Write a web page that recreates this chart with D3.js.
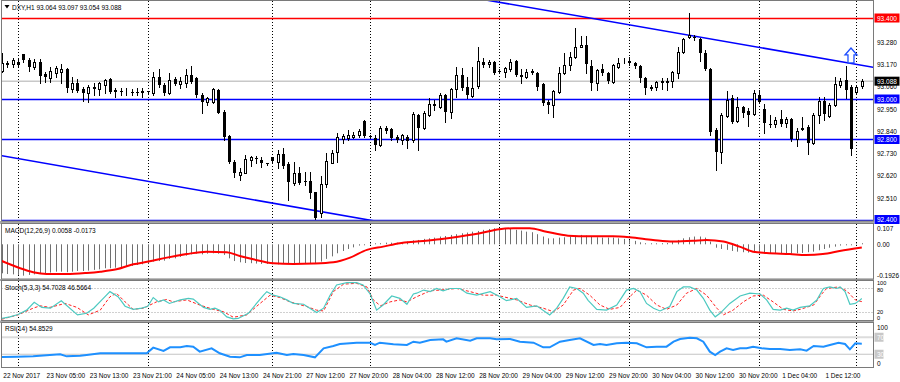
<!DOCTYPE html>
<html><head><meta charset="utf-8">
<script src="https://cdn.jsdelivr.net/npm/d3@7"></script>
<style>
html,body{margin:0;padding:0;background:#fff;}
svg{display:block;}
text{font-family:"Liberation Sans",Arial,sans-serif;font-size:6.5px;fill:#000;}
</style>
</head><body>
<svg id="c" width="900" height="382"></svg>
<script>
// ---------- DATA ----------
const symbolTitle = "DXY,H1  93.064 93.097 93.054 93.088";
const openP = [93.140,93.176,93.173,93.184,93.221,93.193,93.160,93.181,93.124,93.102,93.127,93.135,93.148,93.048,93.077,93.048,93.028,93.058,93.048,93.069,
93.097,93.045,93.038,93.035,93.037,93.035,93.040,93.038,93.028,93.107,93.069,93.028,93.097,93.072,93.077,93.119,93.102,93.020,92.987,92.987,
93.045,92.938,92.817,92.691,92.625,92.636,92.699,92.709,92.699,92.683,92.712,92.691,92.728,92.679,92.587,92.633,92.594,92.595,92.539,92.436,
92.579,92.686,92.740,92.801,92.806,92.814,92.822,92.893,92.816,92.806,92.773,92.855,92.850,92.814,92.798,92.814,92.798,92.921,92.858,92.921,
92.972,92.962,93.020,92.937,93.048,93.119,93.058,93.015,93.064,93.184,93.173,93.184,93.140,93.135,93.146,93.188,93.119,93.110,93.138,93.130,
93.074,92.987,92.970,93.036,93.127,93.168,93.206,93.258,93.267,93.163,93.081,93.146,93.130,93.086,93.156,93.192,93.188,93.179,93.163,93.102,
93.056,93.058,93.085,93.086,93.091,93.127,93.234,93.305,93.308,93.295,93.229,93.146,92.847,92.740,92.916,93.003,92.893,92.959,92.942,92.926,
93.020,92.949,92.878,92.877,92.900,92.880,92.900,92.801,92.854,92.860,92.784,92.921,92.992,92.916,92.970,93.069,93.094,93.061,93.036,93.064];
const highP = [93.226,93.189,93.201,93.196,93.222,93.201,93.196,93.196,93.135,93.160,93.163,93.173,93.152,93.110,93.097,93.061,93.069,93.081,93.086,93.097,
93.102,93.056,93.053,93.056,93.048,93.053,93.053,93.041,93.135,93.147,93.077,93.127,93.110,93.110,93.147,93.163,93.110,93.028,93.012,93.053,
93.048,92.946,92.822,92.699,92.658,92.724,92.719,92.719,92.715,92.686,92.715,92.748,92.756,92.691,92.691,92.663,92.641,92.641,92.542,92.620,
92.732,92.748,92.830,92.827,92.847,92.839,92.850,92.896,92.822,92.822,92.867,92.867,92.855,92.822,92.826,92.822,92.938,92.926,92.940,93.003,
92.995,93.028,93.023,93.053,93.156,93.151,93.110,93.160,93.255,93.201,93.193,93.189,93.146,93.160,93.196,93.193,93.146,93.146,93.146,93.135,
93.077,92.995,93.044,93.156,93.226,93.234,93.349,93.311,93.311,93.193,93.146,93.173,93.135,93.173,93.201,93.201,93.209,93.184,93.168,93.110,
93.069,93.091,93.102,93.102,93.140,93.258,93.300,93.423,93.316,93.300,93.242,93.151,92.855,92.929,93.041,93.020,93.008,92.965,92.954,93.044,
93.044,92.975,92.921,92.909,92.946,92.913,92.904,92.855,92.909,92.872,92.929,93.008,93.008,92.979,93.110,93.102,93.163,93.069,93.064,93.097];
const lowP = [93.135,93.160,93.160,93.160,93.184,93.140,93.147,93.081,93.086,93.086,93.110,93.081,93.036,93.036,93.036,92.990,92.987,93.020,93.020,93.031,
93.028,93.012,93.020,93.020,93.020,93.020,93.012,93.028,93.020,93.061,93.020,93.025,93.069,93.053,93.061,93.081,93.012,92.933,92.970,92.979,
92.929,92.798,92.686,92.617,92.600,92.633,92.669,92.686,92.666,92.674,92.691,92.658,92.658,92.501,92.575,92.580,92.575,92.510,92.406,92.419,
92.567,92.682,92.691,92.781,92.798,92.806,92.814,92.811,92.806,92.748,92.768,92.834,92.798,92.789,92.778,92.756,92.789,92.748,92.850,92.916,
92.946,92.954,92.888,92.904,93.012,93.044,93.003,93.012,93.053,93.160,93.160,93.123,93.127,93.110,93.140,93.115,93.077,93.102,93.123,93.044,
92.970,92.929,92.913,93.028,93.123,93.143,93.201,93.255,93.127,93.044,93.044,93.119,93.077,93.081,93.151,93.176,93.168,93.151,93.086,93.023,
93.044,93.044,93.048,93.044,93.061,93.102,93.226,93.300,93.292,93.189,93.143,92.822,92.649,92.682,92.913,92.880,92.888,92.913,92.867,92.921,
92.979,92.834,92.863,92.863,92.867,92.863,92.794,92.768,92.847,92.728,92.778,92.880,92.896,92.913,92.965,93.061,93.003,92.723,93.031,93.054];
const closeP = [93.180,93.166,93.193,93.166,93.193,93.160,93.181,93.115,93.110,93.138,93.152,93.148,93.053,93.077,93.041,93.028,93.061,93.048,93.077,93.094,
93.036,93.035,93.034,93.037,93.035,93.031,93.031,93.034,93.110,93.069,93.028,93.094,93.074,93.091,93.119,93.086,93.020,92.987,93.003,93.048,
92.933,92.814,92.691,92.633,92.641,92.704,92.712,92.705,92.682,92.681,92.696,92.727,92.669,92.592,92.633,92.587,92.590,92.534,92.411,92.579,
92.694,92.735,92.811,92.817,92.822,92.822,92.844,92.817,92.812,92.773,92.855,92.844,92.806,92.798,92.822,92.794,92.926,92.855,92.930,92.974,
92.975,93.020,92.937,93.048,93.119,93.053,93.020,93.053,93.189,93.168,93.184,93.130,93.137,93.151,93.184,93.119,93.110,93.135,93.130,93.061,
92.979,92.970,93.040,93.130,93.168,93.206,93.255,93.267,93.173,93.077,93.143,93.127,93.091,93.168,93.179,93.194,93.179,93.163,93.102,93.053,
93.058,93.086,93.087,93.088,93.135,93.234,93.295,93.316,93.306,93.229,93.146,92.839,92.740,92.921,92.995,92.888,92.962,92.932,92.921,93.028,
92.987,92.880,92.876,92.896,92.877,92.900,92.801,92.844,92.856,92.784,92.921,92.992,92.926,92.970,93.074,93.091,93.044,92.751,93.058,93.088];

const priceTicks = [93.280, 93.170, 93.060, 92.950, 92.840, 92.730, 92.620, 92.510];
const levelPrices = [93.400, 93.000, 92.800, 92.400];
const levelColors = ["#ff0000", "#0000ff", "#0000ff", "#0000ff"];
const bidPrice = 93.088;

// trend lines (bar index, price)
const upperTrendIdx = [85, 161.5];
const upperTrendPrice = [93.510, 93.155];
const lowerTrendIdx = [-1, 69.5];
const lowerTrendPrice = [92.7245, 92.395];
const arrowIdx = 157, arrowPrice = 93.178;

const timeIdx = [0,8,16,24,32,40,48,56,64,72,80,88,96,104,112,120,128,136,144,152];
const timeLabels = ["22 Nov 2017","23 Nov 05:00","23 Nov 13:00","23 Nov 21:00","24 Nov 05:00","24 Nov 13:00","24 Nov 21:00",
"27 Nov 12:00","27 Nov 20:00","28 Nov 04:00","28 Nov 12:00","28 Nov 20:00","29 Nov 04:00","29 Nov 12:00","29 Nov 20:00",
"30 Nov 04:00","30 Nov 12:00","30 Nov 20:00","1 Dec 04:00","1 Dec 12:00"];
const separatorIdx = [3, 27, 50, 68, 92, 116, 140, 158];

// MACD
const macdTitle = "MACD(12,26,9) 0.0058 -0.0173";
const macdHist = [-0.161,-0.165,-0.167,-0.170,-0.174,-0.170,-0.167,-0.165,-0.161,-0.157,-0.152,-0.152,-0.155,-0.152,-0.148,-0.148,-0.146,-0.142,-0.139,-0.133,
-0.133,-0.130,-0.128,-0.124,-0.120,-0.115,-0.111,-0.107,-0.096,-0.093,-0.091,-0.081,-0.078,-0.070,-0.063,-0.056,-0.052,-0.056,-0.052,-0.050,
-0.052,-0.059,-0.078,-0.093,-0.100,-0.104,-0.105,-0.107,-0.109,-0.109,-0.111,-0.111,-0.109,-0.107,-0.105,-0.105,-0.105,-0.107,-0.105,-0.096,
-0.081,-0.067,-0.050,-0.037,-0.026,-0.017,-0.007,-0.002,0.002,0.004,0.006,0.009,0.009,0.009,0.011,0.015,0.022,0.024,0.030,0.033,
0.037,0.043,0.046,0.052,0.056,0.061,0.065,0.070,0.074,0.080,0.085,0.089,0.089,0.089,0.085,0.080,0.076,0.070,0.067,0.056,
0.043,0.033,0.033,0.037,0.039,0.043,0.048,0.052,0.048,0.043,0.039,0.037,0.037,0.037,0.033,0.030,0.024,0.019,0.011,0.006,
0.004,0.004,0.006,0.007,0.015,0.024,0.033,0.039,0.043,0.043,0.037,0.015,-0.019,-0.026,-0.031,-0.037,-0.041,-0.044,-0.046,-0.048,
-0.050,-0.050,-0.050,-0.050,-0.050,-0.050,-0.052,-0.050,-0.048,-0.044,-0.041,-0.033,-0.026,-0.019,-0.013,-0.007,-0.004,-0.002,0.002,0.0058];
const sigIdx = [0,1.5,3.4,5.8,8.3,12,15.7,18.2,21.2,24.3,27.1,30.5,34.2,37.9,41.6,44,46.5,50.2,53.9,57.6,61.3,64.4,67.5,70.5,73.6,76.7,
81,84.7,88.4,92,94.6,97.6,100.7,104.7,108.7,113,116.1,120.4,124.1,127.8,130.3,133.4,136.4,138.9,141.4,145.7,148.7,151.8,154.9,159];
const sigVal = [-0.0925,-0.111,-0.133,-0.155,-0.165,-0.165,-0.159,-0.152,-0.139,-0.111,-0.096,-0.074,-0.054,-0.041,-0.044,-0.065,-0.083,-0.105,-0.109,-0.107,-0.100,-0.074,-0.031,-0.013,0.006,0.015,
0.028,0.043,0.061,0.083,0.089,0.089,0.070,0.048,0.044,0.044,0.039,0.024,0.015,0.019,0.024,0.015,-0.013,-0.041,-0.048,-0.054,-0.059,-0.054,-0.037,-0.0173];
const macdAxis = [0.107, 0.00, -0.1926];
const macdAxisLabels = ["0.107", "0.00", "-0.1926"];

// Stochastic
const stochTitle = "Stoch(5,3,3) 54.7028 46.5664";
const kIdx = [0,1.5,3,4.6,6,7.4,9,11,14,15.7,17,18.5,20,21.5,22.8,24.3,25.9,27,28,29,29.9,31,33,34.5,35.4,37.3,38.5,39.4,40.3,41.6,42.8,43.7,45.6,47.1,48.4,49,50.2,51.4,52.7,53.9,
55.8,58.2,59.5,60.7,61.9,63.8,65.6,66.8,68.1,69.3,70.5,72.1,73.6,74.9,76.1,76.7,78,79.2,80.4,81.6,82.9,84.7,86,87.8,90.3,92.1,93.3,95.2,97,98.9,
101.3,102.6,103.8,105,106.3,107.5,108.4,110,111.8,113.7,115.5,116.8,118,119.2,120.5,121.7,123.5,124.8,126,127.2,128.5,129.7,130.9,131.9,132.8,134.6,136.5,138.3,140.2,141.4,
142.6,143.9,145.1,146.3,147.6,149.4,150.7,151.9,153.1,154.4,155,155.9,156.8,157.8,158.7,159];
const kVal = [4,8,14,25,45,32,30,49,13,17,30,51,72,59,35,27,30,35,57,46,51,42,51,55,53,32,27,30,25,8,3,4,17,42,63,72,63,59,51,42,
40,19,30,63,89,95,95,89,66,25,38,61,55,40,66,68,76,72,80,74,80,80,68,63,72,59,49,55,32,36,
13,30,55,84,80,68,50,27,25,38,76,80,72,42,30,23,34,72,84,84,76,55,25,8,17,42,61,68,66,51,
27,25,30,25,32,36,51,80,84,80,84,72,40,42,51,54.7];
const dIdx = [0,3,5.8,7.1,8.9,11.7,13.9,16,18.2,20,21.2,22.8,24.3,26.2,28.6,30.5,31.7,34.2,36.6,39.1,41,42.8,45.3,47.4,49.6,51.4,53.3,56.4,58.2,59.5,
61.3,63.2,65.6,67.5,68.7,70,71.8,73.6,74.9,76.7,79.2,81,84.1,86.6,89,91.5,95.2,97.7,100.1,102,103.8,105.7,106.9,108.7,110.6,112.4,114.3,116.1,117.4,119.2,
121.1,122.9,124.8,126.6,128.5,130.3,132.2,133.4,135.2,137.1,138.9,140.8,142.6,144.5,146.3,147.6,150.1,151.6,152.5,154.7,156.2,157.8,159];
const dVal = [2,13,30,36,32,42,32,13,25,59,68,46,27,30,46,52,46,51,38,27,21,7,13,38,63,57,46,34,25,23,
72,91,93,84,51,36,46,51,46,59,74,76,80,72,63,63,51,38,30,21,38,76,80,63,38,27,32,59,76,63,
38,27,38,68,80,63,30,13,25,46,61,63,46,27,23,27,38,66,80,84,74,51,46.6];
const stochAxis = [100, 80, 20, 0];
const stochLevels = [80, 20];

// RSI
const rsiTitle = "RSI(14) 54.8529";
const rIdx = [0,2.8,5.8,8.9,10.8,12,14.5,15.7,18.2,21.2,26.8,28,29.9,31.1,33,34.2,35.4,36.6,38.8,40.3,42.2,44,45.3,47.7,50.8,52.7,53.9,55.8,57.9,59.5,
61.3,62.5,65.6,68.1,69,69.9,72.4,74.9,76.1,77.3,79.2,81.6,82.2,84.1,86.6,87.8,90.3,91.5,94,95.8,98.3,100.1,101.3,103.2,105,106.9,109.4,110.6,111.8,113.7,
115.5,117.4,119.2,121.1,122.9,124.2,125.4,127.2,128.5,129.7,130.9,131.9,132.8,134,135.2,136.5,137.7,138.9,140.5,142,143.9,145.7,147.6,148.8,150.1,151.9,153.1,154.7,155.9,156.8,157.8,159];
const rVal = [23.5,24.3,25.1,28.2,29.8,25.1,26.3,28.2,32.2,32.2,32.2,45.5,37.7,46.3,46.3,49.4,47.8,36.1,43.9,32.2,24.3,22.7,28.2,28.2,33.7,28.2,30.6,28.2,22.7,43.9,
49.4,54.1,57.2,57.2,51.8,57.2,53.3,51.8,59.6,57.2,63.5,65.1,59.6,67.5,62,67.5,67.5,65.1,65.9,59.6,57.2,46.3,46.3,59.6,63.5,67.5,51.8,54.1,51.8,55.7,
57.2,55.7,46.3,47.8,47.8,59.6,65.9,69,67.5,59.6,36.1,28.2,36.1,43.9,40,43.9,43.9,47.8,43.9,42.4,42.4,40,41.6,38.5,49.4,47.8,51.8,57.2,54.1,41.6,55.7,54.85];
const rsiAxis = [100, 70, 30, 0];
const rsiLevels = [70, 30];

// ---------- LAYOUT ----------
const W = 900, H = 382;
const left = 1.5, right = 873.5;
const panels = {
  main:  {top: 1,   bottom: 221},
  macd:  {top: 224, bottom: 279},
  stoch: {top: 281, bottom: 320.5},
  rsi:   {top: 323, bottom: 367.5}
};

const svg = d3.select("#c");
svg.append("rect").attr("width", W).attr("height", H).attr("fill", "#fff");

const x = d3.scaleLinear().domain([0, 160]).range([1.77, 1.77 + 160 * 5.409]);
const yMain = d3.scaleLinear().domain([92.3975, 93.484]).range([221, 1]);
const yMacd = d3.scaleLinear().domain([-0.1926, 0.107]).range([279, 225]);
const yStoch = d3.scaleLinear().domain([0, 100]).range([320, 280.6]);
const yRsi = d3.scaleLinear().domain([0, 100]).range([367, 324.5]);

const defs = svg.append("defs");
Object.entries(panels).forEach(([k, p]) => {
  defs.append("clipPath").attr("id", "clip-" + k)
    .append("rect").attr("x", left + 0.5).attr("y", p.top)
    .attr("width", right - left - 1).attr("height", p.bottom - p.top);
});

// splitters
[[221, 224], [279, 281], [320.5, 323]].forEach(s => {
  svg.append("rect").attr("x", 0).attr("y", s[0]).attr("width", right + 0.5).attr("height", s[1] - s[0]).attr("fill", "#a8a8a8");
});

// separators (vertical dotted) across all panels
Object.entries(panels).forEach(([k, p]) => {
  svg.append("g").attr("clip-path", `url(#clip-${k})`).selectAll("line").data(separatorIdx).join("line")
    .attr("x1", d => Math.round(x(d)) + 0.5).attr("x2", d => Math.round(x(d)) + 0.5)
    .attr("y1", p.top).attr("y2", p.bottom)
    .attr("stroke", "#000").attr("stroke-width", 1).attr("stroke-dasharray", "1,2");
});

// ---------- MAIN PANEL ----------
const gMain = svg.append("g").attr("clip-path", "url(#clip-main)");
gMain.append("line").attr("x1", left).attr("x2", right)
  .attr("y1", yMain(bidPrice)).attr("y2", yMain(bidPrice))
  .attr("stroke", "#c8c8c8").attr("stroke-width", 1.5);
gMain.selectAll(".lvl").data(levelPrices).join("line")
  .attr("x1", left).attr("x2", right)
  .attr("y1", d => Math.round(yMain(d)) + 0.5).attr("y2", d => Math.round(yMain(d)) + 0.5)
  .attr("stroke", (d, i) => levelColors[i]).attr("stroke-width", 1.6);
gMain.append("line")
  .attr("x1", x(upperTrendIdx[0])).attr("y1", yMain(upperTrendPrice[0]))
  .attr("x2", x(upperTrendIdx[1])).attr("y2", yMain(upperTrendPrice[1]))
  .attr("stroke", "#0000ff").attr("stroke-width", 1.6);
gMain.append("line")
  .attr("x1", x(lowerTrendIdx[0])).attr("y1", yMain(lowerTrendPrice[0]))
  .attr("x2", x(lowerTrendIdx[1])).attr("y2", yMain(lowerTrendPrice[1]))
  .attr("stroke", "#0000ff").attr("stroke-width", 1.6);

const candles = d3.range(openP.length).map(i => ({i, o: openP[i], h: highP[i], l: lowP[i], c: closeP[i]}));
const gC = gMain.append("g");
candles.forEach(d => {
  const px = Math.round(x(d.i)) + 0.5;
  gC.append("line").attr("x1", px).attr("x2", px)
    .attr("y1", Math.round(yMain(d.h))).attr("y2", Math.round(yMain(d.l)) + 1)
    .attr("stroke", "#000").attr("stroke-width", 1);
  const yt = Math.round(yMain(Math.max(d.o, d.c)));
  const yb = Math.round(yMain(Math.min(d.o, d.c)));
  if (d.c >= d.o) {
    gC.append("rect").attr("x", px - 1).attr("y", yt + 0.5)
      .attr("width", 2).attr("height", Math.max(0, yb - yt))
      .attr("fill", "#fff").attr("stroke", "#000").attr("stroke-width", 1);
  } else {
    gC.append("rect").attr("x", px - 1.5).attr("y", yt)
      .attr("width", 3).attr("height", Math.max(1, yb - yt))
      .attr("fill", "#000");
  }
});

{
  const ax = x(arrowIdx), ay = yMain(arrowPrice);
  const pts = [[0,-15],[6,-8],[3,-8],[3,0],[-3,0],[-3,-8],[-6,-8]];
  gMain.append("path")
    .attr("d", "M" + pts.map(p => (ax + p[0]) + "," + (ay + p[1])).join("L") + "Z")
    .attr("fill", "#fff").attr("stroke", "#1f4fff").attr("stroke-width", 1.3);
}

svg.append("path").attr("d", "M4.5,5 L9.5,5 L7,8.5 Z").attr("fill", "#000");
svg.append("text").attr("x", 12).attr("y", 7).attr("dominant-baseline", "central").text(symbolTitle);

// ---------- MACD ----------
const gMacd = svg.append("g").attr("clip-path", "url(#clip-macd)");
gMacd.selectAll("line.h").data(macdHist).join("line")
  .attr("x1", (d, i) => Math.round(x(i)) + 0.5).attr("x2", (d, i) => Math.round(x(i)) + 0.5)
  .attr("y1", yMacd(0)).attr("y2", d => Math.abs(yMacd(d) - yMacd(0)) < 1 ? yMacd(0) + (d >= 0 ? -1 : 1) : yMacd(d))
  .attr("stroke", "#707070").attr("stroke-width", 1);
gMacd.append("path")
  .attr("d", d3.line().x(d => x(d[0])).y(d => yMacd(d[1])).curve(d3.curveMonotoneX)(sigIdx.map((v, i) => [v, sigVal[i]])))
  .attr("fill", "none").attr("stroke", "#ff0000").attr("stroke-width", 2);
svg.append("text").attr("x", 5).attr("y", 230.5).attr("dominant-baseline", "central").text(macdTitle);

// ---------- STOCH ----------
const gSt = svg.append("g").attr("clip-path", "url(#clip-stoch)");
gSt.selectAll("line").data(stochLevels).join("line")
  .attr("x1", left).attr("x2", right)
  .attr("y1", d => Math.round(yStoch(d)) + 0.5).attr("y2", d => Math.round(yStoch(d)) + 0.5)
  .attr("stroke", "#a0a0a0").attr("stroke-dasharray", "1,2");
gSt.append("path")
  .attr("d", d3.line().x(d => x(d[0])).y(d => yStoch(d[1]))(dIdx.map((v, i) => [v, dVal[i]])))
  .attr("fill", "none").attr("stroke", "#ff2020").attr("stroke-width", 1).attr("stroke-dasharray", "3,2");
gSt.append("path")
  .attr("d", d3.line().x(d => x(d[0])).y(d => yStoch(d[1]))(kIdx.map((v, i) => [v, kVal[i]])))
  .attr("fill", "none").attr("stroke", "#4cc9c0").attr("stroke-width", 1.2);
svg.append("text").attr("x", 5).attr("y", 287).attr("dominant-baseline", "central").text(stochTitle);

// ---------- RSI ----------
const gR = svg.append("g").attr("clip-path", "url(#clip-rsi)");
gR.selectAll("line").data(rsiLevels).join("line")
  .attr("x1", left).attr("x2", right)
  .attr("y1", d => yRsi(d)).attr("y2", d => yRsi(d))
  .attr("stroke", (d, i) => i === 0 ? "#dcdcdc" : "#c4c4c4").attr("stroke-width", (d, i) => i === 0 ? 2 : 1.2);
gR.append("path")
  .attr("d", d3.line().x(d => x(d[0])).y(d => yRsi(d[1]))(rIdx.map((v, i) => [v, rVal[i]])))
  .attr("fill", "none").attr("stroke", "#1e90ff").attr("stroke-width", 2);
svg.append("text").attr("x", 5).attr("y", 328.5).attr("dominant-baseline", "central").text(rsiTitle);

// ---------- FRAMES ----------
Object.values(panels).forEach(p => {
  svg.append("rect").attr("x", left).attr("y", p.top - 0.5).attr("width", right - left).attr("height", p.bottom - p.top + 0.5)
    .attr("fill", "none").attr("stroke", "#7a7a7a").attr("stroke-width", 1);
});

// ---------- RIGHT AXIS ----------
const axX = 877;
function clampY(v, p, m) { return Math.max(p.top + m, Math.min(p.bottom - m, v)); }
svg.selectAll("text.pt").data(priceTicks).join("text").attr("class", "pt")
  .attr("x", axX).attr("y", d => yMain(d)).attr("dominant-baseline", "central").text(d => d.toFixed(3));
function boxLabel(yv, txt, bg, fg, w) {
  svg.append("rect").attr("x", 874.5).attr("y", yv - 4.5).attr("width", w).attr("height", 9).attr("fill", bg);
  svg.append("text").attr("x", axX).attr("y", yv).attr("dominant-baseline", "central").style("fill", fg).text(txt);
}
levelPrices.forEach((p, i) => boxLabel(Math.min(yMain(p), 219.5), p.toFixed(3), levelColors[i], "#fff", 25));
boxLabel(yMain(bidPrice), bidPrice.toFixed(3), "#000", "#fff", 25);
macdAxis.forEach((v, i) => {
  svg.append("text").attr("x", axX).attr("y", clampY(yMacd(v), panels.macd, 4)).attr("dominant-baseline", "central").text(macdAxisLabels[i]);
});
// stoch axis: smaller text so stacked labels stay apart
const stochLabelY = [282.8, 289.6, 311.6, 318.2];
stochAxis.forEach((v, i) => {
  svg.append("text").attr("x", axX).attr("y", Math.abs(yStoch(v) - stochLabelY[i]) < 4 ? stochLabelY[i] : yStoch(v))
    .attr("dominant-baseline", "central").style("font-size", "5.6px").text(v);
});
rsiAxis.forEach(v => {
  const yy = clampY(yRsi(v), panels.rsi, 4);
  if (rsiLevels.includes(v)) {
    svg.append("rect").attr("x", 874.5).attr("y", yy - 4.5).attr("width", 9).attr("height", 9).attr("fill", "#c8c8c8");
    svg.append("text").attr("x", axX).attr("y", yy).attr("dominant-baseline", "central").style("fill", "#fff").text(v);
  } else {
    svg.append("text").attr("x", axX).attr("y", yy).attr("dominant-baseline", "central").text(v);
  }
});

// ---------- TIME AXIS ----------
svg.selectAll("text.tl").data(timeIdx).join("text").attr("class", "tl")
  .attr("x", d => x(d) + 1.5).attr("y", 375).attr("dominant-baseline", "central")
  .text((d, i) => timeLabels[i]);
</script>
</body></html>
